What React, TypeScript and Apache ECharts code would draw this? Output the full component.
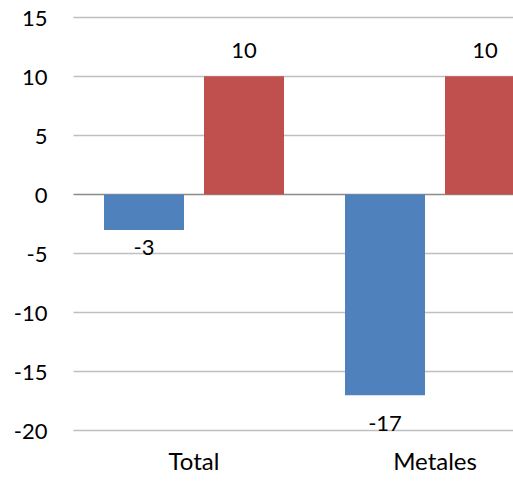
import React, { useEffect, useRef } from "react";
import * as echarts from "echarts";

const categories = ["Total", "Metales"];
const blueValues = [-3, -17];
const redValues = [10, 10];
const yMin = -20;
const yMax = 15;
const yStep = 5;

export default function App() {
  const ref = useRef<HTMLDivElement>(null);
  useEffect(() => {
    if (!ref.current) return;
    const chart = echarts.init(ref.current, undefined, { renderer: "svg" });
    const font = "Lato, 'Open Sans', sans-serif";
    const gridColors: string[] = [];
    for (let v = yMin; v <= yMax; v += yStep) {
      gridColors.push(v === 0 ? "#8c8c8c" : "#bfbfbf");
    }
    const blueDist = [6, 16];
    chart.setOption({
      animation: false,
      backgroundColor: "#ffffff",
      grid: { left: 73.5, right: 4.5, top: 17.3, bottom: 50.3 },
      xAxis: {
        type: "category",
        data: categories,
        axisLine: { show: false },
        axisTick: { show: false },
        axisLabel: { color: "#000", fontSize: 24, fontFamily: font, margin: 18 },
      },
      yAxis: {
        type: "value",
        min: yMin,
        max: yMax,
        interval: yStep,
        axisLine: { show: false },
        axisTick: { show: false },
        axisLabel: { color: "#000", fontSize: 22, fontFamily: font, margin: 26 },
        splitLine: { show: true, lineStyle: { color: gridColors, width: 1.3 } },
      },
      series: [
        {
          type: "bar",
          data: blueValues.map((v, i) => ({ value: v, label: { distance: blueDist[i] } })),
          barWidth: 80,
          barGap: "25%",
          itemStyle: { color: "#4F81BD" },
          label: {
            show: true,
            position: "bottom",
            color: "#000",
            fontSize: 22,
            fontFamily: font,
          },
        },
        {
          type: "bar",
          data: redValues,
          barWidth: 80,
          barGap: "25%",
          itemStyle: { color: "#C0504D" },
          label: {
            show: true,
            position: "top",
            distance: 16,
            color: "#000",
            fontSize: 22,
            fontFamily: font,
          },
        },
      ],
    });
    return () => chart.dispose();
  }, []);
  return (
    <div style={{ position: "fixed", left: 0, top: 0, width: 513, height: 481, overflow: "hidden", background: "#fff" }}>
      <div ref={ref} style={{ width: 560, height: 481 }} />
    </div>
  );
}
